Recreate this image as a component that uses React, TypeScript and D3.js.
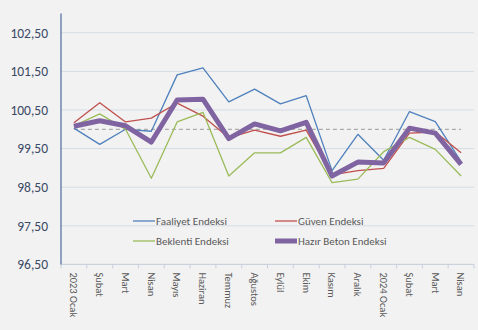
import React from "react";
import * as d3 from "d3";

const categories = [
  "2023 Ocak", "Şubat", "Mart", "Nisan", "Mayıs", "Haziran", "Temmuz", "Ağustos",
  "Eylül", "Ekim", "Kasım", "Aralık", "2024 Ocak", "Şubat", "Mart", "Nisan",
];
const faaliyet = [100.03, 99.61, 100.0, 99.95, 101.41, 101.59, 100.71, 101.04, 100.66, 100.87, 98.93, 99.87, 99.2, 100.46, 100.2, 99.16];
const guven = [100.17, 100.69, 100.19, 100.29, 100.68, 100.34, 99.78, 99.98, 99.82, 99.98, 98.82, 98.93, 98.99, 99.9, 99.93, 99.39];
const beklenti = [100.09, 100.4, 100.0, 98.73, 100.19, 100.44, 98.79, 99.39, 99.39, 99.79, 98.62, 98.71, 99.42, 99.79, 99.48, 98.79];
const hazirBeton = [100.08, 100.22, 100.09, 99.67, 100.76, 100.78, 99.76, 100.14, 99.96, 100.18, 98.79, 99.15, 99.13, 100.03, 99.9, 99.09];
const yTicks = [96.5, 97.5, 98.5, 99.5, 100.5, 101.5, 102.5];
const refValue = 100;

const series = [
  { name: "Faaliyet Endeksi", values: faaliyet, color: "#4f81bd", width: 1.3 },
  { name: "Güven Endeksi", values: guven, color: "#c0504d", width: 1.3 },
  { name: "Beklenti Endeksi", values: beklenti, color: "#9bbb59", width: 1.3 },
  { name: "Hazır Beton Endeksi", values: hazirBeton, color: "#8064a2", width: 5 },
];

export default function App() {
  const W = 478, H = 330;
  const left = 61, right = 474, top = 13.5, bottom = 264.4;
  const x = d3.scaleBand<number>().domain(d3.range(categories.length)).range([left, right]);
  const y = d3.scaleLinear().domain([96.5, 103]).range([bottom, top]);
  const cx = (i: number) => (x(i) as number) + x.bandwidth() / 2;
  const line = (vals: number[]) =>
    d3.line<number>().x((_, i) => cx(i)).y((v) => y(v))(vals) as string;
  const fmt = (v: number) => v.toFixed(2).replace(".", ",");
  const font = "Carlito, 'Liberation Sans', Calibri, sans-serif";
  const textColor = "#595959";

  const legendItems = [
    { s: series[0], lx: 133, ly: 221 },
    { s: series[1], lx: 275, ly: 221 },
    { s: series[2], lx: 133, ly: 241 },
    { s: series[3], lx: 275, ly: 241 },
  ];

  return (
    <div style={{ position: "fixed", left: 0, top: 0 }}>
      <svg width={W} height={H} style={{ display: "block", background: "#f2f2f2" }} fontFamily={font}>
        <rect x={0} y={0} width={W} height={H} fill="#f2f2f2" />
        {yTicks.map((t) => (
          <line key={t} x1={left} x2={right} y1={y(t)} y2={y(t)} stroke="#d5dce6" strokeWidth={1} />
        ))}
        {yTicks.map((t) => (
          <text key={"l" + t} x={48} y={y(t)} dy="0.35em" textAnchor="end" fontSize={13.5} fill="#3b4a66">
            {fmt(t)}
          </text>
        ))}
        <line x1={left} x2={right} y1={bottom} y2={bottom} stroke="#c8d0dc" strokeWidth={1} />
        {d3.range(categories.length + 1).map((i) => {
          const xx = i < categories.length ? (x(i) as number) : right;
          return <line key={"tk" + i} x1={xx} x2={xx} y1={bottom} y2={bottom + 4} stroke="#c8d0dc" />;
        })}
        <line x1={left} x2={left} y1={top} y2={bottom} stroke="#4a6a9a" strokeWidth={1.2} />
        <line
          x1={cx(0)} x2={cx(categories.length - 1)} y1={y(refValue)} y2={y(refValue)}
          stroke="#9a9a9a" strokeWidth={1} strokeDasharray="4,3"
        />
        {series.map((s) => (
          <path key={s.name} d={line(s.values)} fill="none" stroke={s.color} strokeWidth={s.width} strokeLinejoin="round" />
        ))}
        {categories.map((c, i) => (
          <text
            key={"c" + i}
            transform={`translate(${cx(i)},${bottom + 8}) rotate(90)`}
            fontSize={10.5}
            fill={textColor}
            dy="0.35em"
            textAnchor="start"
          >
            {c}
          </text>
        ))}
        {legendItems.map(({ s, lx, ly }) => (
          <g key={"lg" + s.name}>
            <line x1={lx} x2={lx + 22} y1={ly} y2={ly} stroke={s.color} strokeWidth={s.width} />
            <text x={lx + 23} y={ly} dy="0.35em" fontSize={11} fill={textColor}>
              {s.name}
            </text>
          </g>
        ))}
      </svg>
    </div>
  );
}
